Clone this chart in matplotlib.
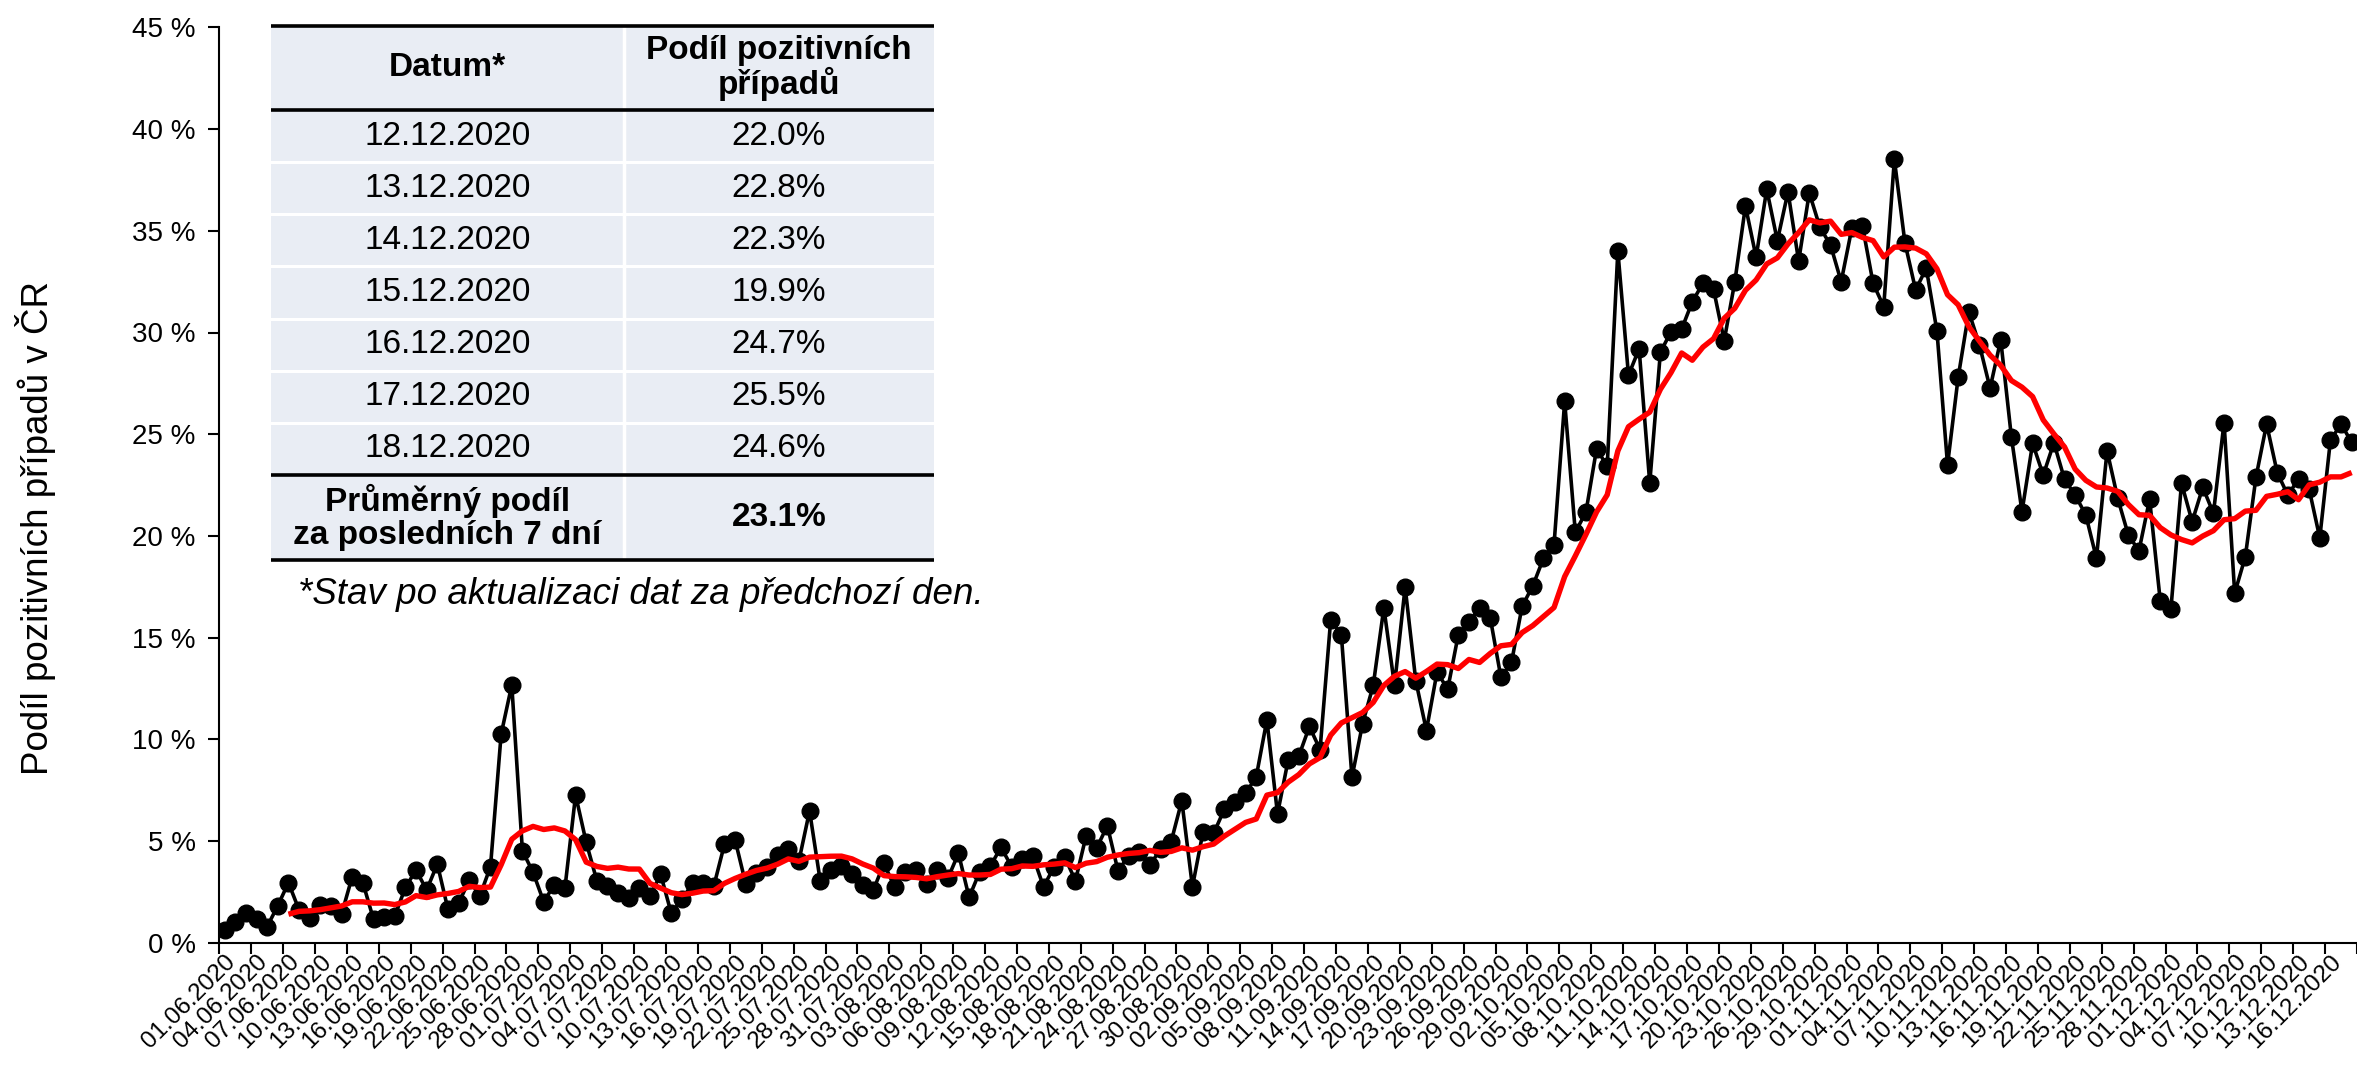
import numpy as np
import pandas as pd
import matplotlib
matplotlib.use('Agg')
import matplotlib.pyplot as plt
from matplotlib.ticker import FixedLocator, FuncFormatter
from matplotlib.patches import Rectangle

plt.rcParams['font.family'] = ['Liberation Sans', 'DejaVu Sans']

# ---------------- data ----------------
dates = pd.date_range('2020-06-01', '2020-12-18', freq='D')
date_labels = [d.strftime('%d.%m.%Y') for d in dates]

positivity = [
    0.62, 1.03, 1.44, 1.15, 0.79, 1.82, 2.95, 1.61, 1.20, 1.85,
    1.80, 1.41, 3.25, 2.95, 1.15, 1.25, 1.31, 2.72, 3.57, 2.59,
    3.87, 1.64, 1.93, 3.08, 2.30, 3.74, 10.25, 12.67, 4.52, 3.46,
    2.02, 2.84, 2.69, 7.26, 4.93, 3.05, 2.79, 2.43, 2.21, 2.67,
    2.31, 3.36, 1.44, 2.13, 2.92, 2.95, 2.79, 4.84, 5.05, 2.89,
    3.41, 3.74, 4.31, 4.59, 4.02, 6.48, 3.05, 3.57, 3.77, 3.36,
    2.84, 2.59, 3.90, 2.72, 3.49, 3.57, 2.88, 3.57, 3.16, 4.39,
    2.23, 3.49, 3.77, 4.69, 3.74, 4.10, 4.26, 2.75, 3.74, 4.20,
    3.05, 5.25, 4.66, 5.75, 3.54, 4.26, 4.48, 3.82, 4.59, 4.97,
    6.98, 2.75, 5.46, 5.38, 6.56, 6.93, 7.34, 8.16, 10.95, 6.33,
    8.98, 9.17, 10.63, 9.49, 15.88, 15.15, 8.13, 10.77, 12.65, 16.47,
    12.65, 17.49, 12.88, 10.43, 13.31, 12.46, 15.15, 15.75, 16.47, 15.98,
    13.06, 13.78, 16.54, 17.54, 18.89, 19.57, 26.61, 20.18, 21.17, 24.28,
    23.43, 34.01, 27.90, 29.20, 22.60, 29.03, 30.04, 30.17, 31.51, 32.42,
    32.12, 29.60, 32.50, 36.22, 33.70, 37.04, 34.51, 36.92, 33.51, 36.87,
    35.17, 34.30, 32.50, 35.12, 35.24, 32.42, 31.27, 38.51, 34.39, 32.09,
    33.16, 30.09, 23.49, 27.80, 31.02, 29.39, 27.26, 29.64, 24.88, 21.19,
    24.55, 22.99, 24.58, 22.78, 22.01, 21.03, 18.90, 24.19, 21.85, 20.04,
    19.27, 21.80, 16.81, 16.39, 22.59, 20.70, 22.39, 21.11, 25.57, 17.18,
    18.98, 22.88, 25.50, 23.11, 22.0, 22.8, 22.3, 19.9, 24.7, 25.5,
    24.6,
]

y_ticks = [0, 5, 10, 15, 20, 25, 30, 35, 40, 45]
y_label = 'Podíl pozitivních případů v ČR'
table_header = ['Datum*', 'Podíl pozitivních\npřípadů']
table_footer_label = 'Průměrný podíl\nza posledních 7 dní'
footnote = '*Stav po aktualizaci dat za předchozí den.'

table_dates = date_labels[-7:]
table_values = positivity[-7:]
table_mean = float(np.mean(table_values))

avg7 = pd.Series(positivity).rolling(7).mean()

# ---------------- figure ----------------
W, H = 2357, 1068
fig = plt.figure(figsize=(W / 100, H / 100), dpi=100)

ax_left, ax_bottom, ax_top = 219.3, 1068 - 942.7, 27.4
ax = fig.add_axes([ax_left / W, ax_bottom / H, (W - ax_left) / W, (942.7 - ax_top) / H])

x = np.arange(len(positivity))
ax.plot(x, positivity, color='black', lw=2.6, marker='o', markersize=12,
        markerfacecolor='black', markeredgecolor='black', zorder=3)
ax.plot(x, avg7, color='#FF0000', lw=3.9, zorder=4, solid_capstyle='butt')

day_px = 10.70
ax.set_xlim(-0.5, -0.5 + (W - ax_left) / day_px)
ax.set_ylim(0, 45)

# y axis
ax.yaxis.set_major_locator(FixedLocator(y_ticks))
ax.yaxis.set_major_formatter(FuncFormatter(lambda v, p: f'{int(round(v))} %'))
ax.tick_params(axis='y', direction='out', length=8, width=1.5, labelsize=20, pad=9)

# x axis: labels at every 3rd category, tick marks between categories
lab_pos = x[::3]
ax.set_xticks(lab_pos)
ax.set_xticklabels([date_labels[i] for i in lab_pos], rotation=45, ha='right',
                   va='top', rotation_mode='anchor', fontsize=17.5)
ax.tick_params(axis='x', which='major', length=0, pad=6)
ax.set_xticks(np.arange(-0.5, len(positivity), 3), minor=True)
ax.tick_params(axis='x', which='minor', direction='out', length=8, width=1.5)

for s in ['top', 'right']:
    ax.spines[s].set_visible(False)
for s in ['left', 'bottom']:
    ax.spines[s].set_linewidth(1.5)

ax.set_ylabel(y_label, fontsize=26.5)
ax.yaxis.set_label_coords((56 - ax_left) / (W - ax_left), (942.7 - 528) / (942.7 - ax_top))

# ---------------- table (overlay in pixel coordinates) ----------------
tax = fig.add_axes([0, 0, 1, 1])
tax.set_xlim(0, W)
tax.set_ylim(H, 0)
tax.axis('off')

tl, ts, tr = 271, 624, 934
t_top, t_head, t_thick, t_bot = 26, 110, 475, 560
row_h = (t_thick - t_head) / 7
cell_color = '#E9EDF4'

tax.add_patch(Rectangle((tl, t_top), tr - tl, t_bot - t_top, facecolor=cell_color,
                        edgecolor='none', zorder=1))
# white separators
for i in range(1, 7):
    yy = t_head + i * row_h
    tax.plot([tl, tr], [yy, yy], color='white', lw=2.2, zorder=2)
tax.plot([ts, ts], [t_top, t_bot], color='white', lw=2.5, zorder=2)
# black rules
for yy in [t_top, t_head, t_thick, t_bot]:
    tax.plot([tl, tr], [yy, yy], color='black', lw=2.6, zorder=3, solid_capstyle='butt')

c1 = (tl + ts) / 2
c2 = (ts + tr) / 2
fs_tab = 24
tax.text(c1, (t_top + t_head) / 2, table_header[0], ha='center', va='center',
         fontsize=fs_tab, fontweight='bold', zorder=4)
tax.text(c2, (t_top + t_head) / 2, table_header[1], ha='center', va='center',
         fontsize=fs_tab, fontweight='bold', zorder=4, linespacing=1.05)
for i, (d, v) in enumerate(zip(table_dates, table_values)):
    yc = t_head + (i + 0.5) * row_h
    tax.text(c1, yc, d, ha='center', va='center', fontsize=fs_tab, zorder=4)
    tax.text(c2, yc, f'{v:.1f}%', ha='center', va='center', fontsize=fs_tab, zorder=4)
tax.text(c1, (t_thick + t_bot) / 2, table_footer_label, ha='center', va='center',
         fontsize=fs_tab, fontweight='bold', zorder=4, linespacing=1.05)
tax.text(c2, (t_thick + t_bot) / 2, f'{table_mean:.1f}%', ha='center', va='center',
         fontsize=fs_tab, fontweight='bold', zorder=4)

tax.text(298, 595, footnote, ha='left', va='center', fontsize=26.5, style='italic', zorder=4)

fig.savefig('out.png', dpi=100)
